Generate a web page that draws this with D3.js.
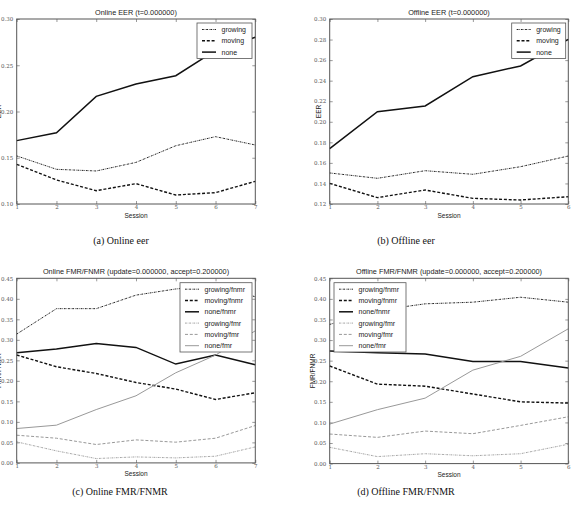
<!DOCTYPE html>
<html>
<head>
<meta charset="utf-8">
<script src="https://cdn.jsdelivr.net/npm/d3@7"></script>
<style>
  body { margin: 0; background: #fff; }
  svg { display: block; }
  .tick text { font-family: "DejaVu Serif", "Liberation Serif", serif; font-size: 5.5px; fill: #555; }
  .title, .leg text, .axlabel { font-family: "Liberation Sans", Arial, sans-serif; fill: #222; }
  .caption { font-family: "Liberation Serif", "Times New Roman", serif; font-size: 10px; fill: #111; }
</style>
</head>
<body>
<div id="chart"></div>
<script>
// --- Données ---
const onlineSessions = [1, 2, 3, 4, 5, 6, 7];
const offlineSessions = [1, 2, 3, 4, 5, 6];

// (a) Online EER
const onlineEerGrowing = [0.152, 0.1375, 0.1357, 0.145, 0.163, 0.1728, 0.1638];
const onlineEerMoving = [0.1429, 0.126, 0.1144, 0.122, 0.1097, 0.1123, 0.1245];
const onlineEerNone = [0.1685, 0.177, 0.2164, 0.2297, 0.2387, 0.266, 0.2802];

// (b) Offline EER
const offlineEerGrowing = [0.1502, 0.145, 0.1524, 0.1489, 0.1563, 0.1667];
const offlineEerMoving = [0.1401, 0.1262, 0.1336, 0.1255, 0.1239, 0.1271];
const offlineEerNone = [0.1738, 0.2098, 0.2154, 0.2439, 0.2543, 0.2802];

// (c) Online FMR/FNMR
const onlineGrowingFnmr = [0.314, 0.376, 0.376, 0.409, 0.424, 0.432, 0.405];
const onlineMovingFnmr = [0.263, 0.2344, 0.218, 0.196, 0.18, 0.1546, 0.171];
const onlineNoneFnmr = [0.2685, 0.2775, 0.2913, 0.2816, 0.2409, 0.2628, 0.2392];
const onlineGrowingFmr = [0.0513, 0.0293, 0.0106, 0.0146, 0.0122, 0.0163, 0.039];
const onlineMovingFmr = [0.0675, 0.0602, 0.0448, 0.0561, 0.0505, 0.0602, 0.0911];
const onlineNoneFmr = [0.0838, 0.092, 0.130, 0.1636, 0.2197, 0.2628, 0.322];

// (d) Offline FMR/FNMR
const offlineGrowingFnmr = [0.338, 0.372, 0.388, 0.392, 0.404, 0.392];
const offlineMovingFnmr = [0.237, 0.193, 0.188, 0.169, 0.15, 0.147];
const offlineNoneFnmr = [0.2733, 0.269, 0.266, 0.248, 0.248, 0.232];
const offlineGrowingFmr = [0.0395, 0.017, 0.024, 0.019, 0.024, 0.047];
const offlineMovingFmr = [0.0718, 0.0637, 0.079, 0.0726, 0.0927, 0.1137];
const offlineNoneFmr = [0.096, 0.131, 0.159, 0.227, 0.2605, 0.3274];

// --- Styles des séries ---
const dashDot = "1.8,0.9,0.6,0.9";
const dashed = "3,1.8";
const styles = {
  growing: { color: "#222", width: 1, dash: dashDot },
  moving: { color: "#111", width: 1.4, dash: dashed },
  none: { color: "#111", width: 1.5, dash: null },
  "growing/fnmr": { color: "#222", width: 1, dash: dashDot },
  "moving/fnmr": { color: "#111", width: 1.4, dash: dashed },
  "none/fnmr": { color: "#111", width: 1.5, dash: null },
  "growing/fmr": { color: "#999", width: 0.9, dash: dashDot },
  "moving/fmr": { color: "#999", width: 1, dash: dashed },
  "none/fmr": { color: "#999", width: 1, dash: null }
};

const panels = [
  {
    title: "Online EER (t=0.000000)", ylabel: "EER", caption: "(a) Online eer",
    x: 16.7, y: 19, w: 238.6, h: 185, capX: 121, capY: 244, ylabelX: -15.5,
    sessions: onlineSessions, yDomain: [0.10, 0.30], yStep: 0.05,
    legend: { x: 197, y: 23, w: 55 },
    series: [["growing", onlineEerGrowing], ["moving", onlineEerMoving], ["none", onlineEerNone]]
  },
  {
    title: "Offline EER (t=0.000000)", ylabel: "EER", caption: "(b) Offline eer",
    x: 329.7, y: 19, w: 238.6, h: 185, capX: 406, capY: 244, ylabelX: -8.5,
    sessions: offlineSessions, yDomain: [0.12, 0.30], yStep: 0.02,
    legend: { x: 511.7, y: 23, w: 54 },
    series: [["growing", offlineEerGrowing], ["moving", offlineEerMoving], ["none", offlineEerNone]]
  },
  {
    title: "Online FMR/FNMR (update=0.000000, accept=0.200000)", ylabel: "FMR/FNMR", caption: "(c) Online FMR/FNMR",
    x: 16.7, y: 278.3, w: 238.6, h: 184.6, capX: 120, capY: 495, ylabelX: -15.5,
    sessions: onlineSessions, yDomain: [0, 0.45], yStep: 0.05,
    legend: { x: 180, y: 282.7, w: 72 },
    series: [["growing/fnmr", onlineGrowingFnmr], ["moving/fnmr", onlineMovingFnmr], ["none/fnmr", onlineNoneFnmr],
             ["growing/fmr", onlineGrowingFmr], ["moving/fmr", onlineMovingFmr], ["none/fmr", onlineNoneFmr]]
  },
  {
    title: "Offline FMR/FNMR (update=0.000000, accept=0.200000)", ylabel: "FMR/FNMR", caption: "(d) Offline FMR/FNMR",
    x: 329.7, y: 278.3, w: 238.6, h: 185.3, capX: 406, capY: 495, ylabelX: -14.4,
    sessions: offlineSessions, yDomain: [0, 0.45], yStep: 0.05,
    legend: { x: 334, y: 282.7, w: 72 },
    series: [["growing/fnmr", offlineGrowingFnmr], ["moving/fnmr", offlineMovingFnmr], ["none/fnmr", offlineNoneFnmr],
             ["growing/fmr", offlineGrowingFmr], ["moving/fmr", offlineMovingFmr], ["none/fmr", offlineNoneFmr]]
  }
];

const svg = d3.select("#chart").append("svg")
  .attr("width", 574).attr("height", 510);

panels.forEach(p => {
  const g = svg.append("g").attr("transform", `translate(${p.x},${p.y})`);

  const x = d3.scaleLinear().domain(d3.extent(p.sessions)).range([0, p.w]);
  const y = d3.scaleLinear().domain(p.yDomain).range([p.h, 0]);
  const yTicks = d3.range(p.yDomain[0], p.yDomain[1] + p.yStep / 2, p.yStep);

  // Axes (ticks vers l'intérieur, sur les 4 côtés)
  const styleAxis = a => {
    a.select(".domain").remove();
    a.selectAll(".tick line").attr("stroke", "#555").attr("stroke-width", 0.6);
  };
  g.append("g").attr("transform", `translate(0,${p.h})`)
    .call(d3.axisBottom(x).tickValues(p.sessions).tickFormat(d3.format("d")).tickSizeInner(-3).tickPadding(1.5))
    .call(styleAxis);
  g.append("g")
    .call(d3.axisTop(x).tickValues(p.sessions).tickFormat("").tickSizeInner(-3))
    .call(styleAxis);
  g.append("g")
    .call(d3.axisLeft(y).tickValues(yTicks).tickFormat(d3.format(".2f")).tickSizeInner(-3).tickPadding(3.5))
    .call(styleAxis);
  g.append("g").attr("transform", `translate(${p.w},0)`)
    .call(d3.axisRight(y).tickValues(yTicks).tickFormat("").tickSizeInner(-3))
    .call(styleAxis);

  // Lignes
  const line = d3.line().x((d, i) => x(p.sessions[i])).y(d => y(d));
  p.series.forEach(([name, vals]) => {
    const s = styles[name];
    g.append("path")
      .datum(vals)
      .attr("d", line)
      .attr("fill", "none")
      .attr("stroke", s.color)
      .attr("stroke-width", s.width)
      .attr("stroke-dasharray", s.dash);
  });

  // Cadre
  g.append("rect").attr("width", p.w).attr("height", p.h)
    .attr("fill", "none").attr("stroke", "#555").attr("stroke-width", 1);

  // Titre
  g.append("text").attr("class", "title")
    .attr("x", p.w / 2).attr("y", -4)
    .attr("text-anchor", "middle").style("font-size", "7.3px")
    .text(p.title);

  // Label axe X
  g.append("text").attr("class", "axlabel")
    .attr("x", p.w / 2).attr("y", p.h + 13.5)
    .attr("text-anchor", "middle").style("font-size", "6.5px")
    .text("Session");

  // Label axe Y
  g.append("text").attr("class", "axlabel")
    .attr("transform", `translate(${p.ylabelX},${p.h / 2}) rotate(-90)`)
    .attr("text-anchor", "middle").style("font-size", "6.5px")
    .text(p.ylabel);

  // Légende
  const rowH = 11.3;
  const leg = svg.append("g").attr("class", "leg")
    .attr("transform", `translate(${p.legend.x},${p.legend.y})`);
  leg.append("rect")
    .attr("width", p.legend.w).attr("height", p.series.length * rowH + 1.5)
    .attr("fill", "#fff").attr("stroke", "#555").attr("stroke-width", 0.8);
  p.series.forEach(([name], i) => {
    const s = styles[name];
    const cy = 6.5 + i * rowH;
    leg.append("line")
      .attr("x1", 5).attr("x2", 19).attr("y1", cy).attr("y2", cy)
      .attr("stroke", s.color).attr("stroke-width", s.width)
      .attr("stroke-dasharray", s.dash);
    leg.append("text")
      .attr("x", 24.5).attr("y", cy + 2.5)
      .style("font-size", "7px")
      .text(name);
  });

  // Légende de la sous-figure
  svg.append("text").attr("class", "caption")
    .attr("x", p.capX).attr("y", p.capY)
    .attr("text-anchor", "middle")
    .text(p.caption);
});
</script>
</body>
</html>
